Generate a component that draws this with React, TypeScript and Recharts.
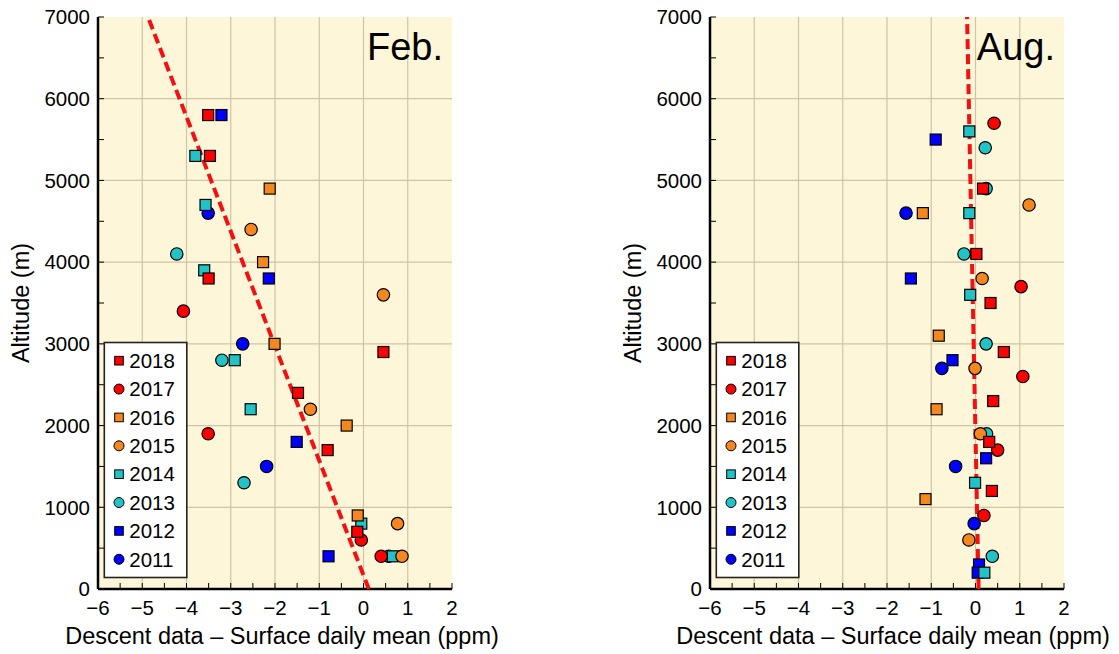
import React from 'react';
import { ScatterChart, Scatter, XAxis, YAxis, CartesianGrid } from 'recharts';

// ---------- data ----------
const years = ['2018', '2017', '2016', '2015', '2014', '2013', '2012', '2011'];
const yearColors = ['#ff0000', '#ff0000', '#f5871f', '#f5871f', '#22c3c6', '#22c3c6', '#0000ff', '#0000ff'];
const yearShapes = ['square', 'circle', 'square', 'circle', 'square', 'circle', 'square', 'circle'];

const xTicks = [-6, -5.5, -5, -4.5, -4, -3.5, -3, -2.5, -2, -1.5, -1, -0.5, 0, 0.5, 1, 1.5, 2];
const yTicks = [0, 500, 1000, 1500, 2000, 2500, 3000, 3500, 4000, 4500, 5000, 5500, 6000, 6500, 7000];
const xGrid = [-5, -4, -3, -2, -1, 0, 1];
const yGrid = [1000, 2000, 3000, 4000, 5000, 6000];

// Feb.
const feb2018 = [{ x: -3.51, y: 5800 }, { x: -3.47, y: 5300 }, { x: -3.5, y: 3800 }, { x: 0.45, y: 2900 }, { x: -1.48, y: 2400 }, { x: -0.81, y: 1700 }, { x: -0.14, y: 700 }];
const feb2017 = [{ x: -4.07, y: 3400 }, { x: -3.51, y: 1900 }, { x: -0.05, y: 600 }, { x: 0.4, y: 400 }];
const feb2016 = [{ x: -2.12, y: 4900 }, { x: -2.27, y: 4000 }, { x: -2.01, y: 3000 }, { x: -0.38, y: 2000 }, { x: -0.13, y: 900 }];
const feb2015 = [{ x: -2.54, y: 4400 }, { x: 0.45, y: 3600 }, { x: -1.2, y: 2200 }, { x: 0.77, y: 800 }, { x: 0.87, y: 400 }];
const feb2014 = [{ x: -3.8, y: 5300 }, { x: -3.57, y: 4700 }, { x: -3.6, y: 3900 }, { x: -2.91, y: 2800 }, { x: -2.55, y: 2200 }, { x: -0.05, y: 800 }, { x: 0.66, y: 400 }];
const feb2013 = [{ x: -4.22, y: 4100 }, { x: -3.2, y: 2800 }, { x: -2.7, y: 1300 }, { x: 0.57, y: 400 }];
const feb2012 = [{ x: -3.21, y: 5800 }, { x: -2.14, y: 3800 }, { x: -1.51, y: 1800 }, { x: -0.79, y: 400 }];
const feb2011 = [{ x: -3.51, y: 4600 }, { x: -2.73, y: 3000 }, { x: -2.19, y: 1500 }];
const febTrend = [{ x: 0.12, y: 0 }, { x: -4.87, y: 7000 }];

// Aug.
const aug2018 = [{ x: 0.17, y: 4900 }, { x: 0.02, y: 4100 }, { x: 0.34, y: 3500 }, { x: 0.64, y: 2900 }, { x: 0.4, y: 2300 }, { x: 0.31, y: 1800 }, { x: 0.37, y: 1200 }];
const aug2017 = [{ x: 0.42, y: 5700 }, { x: 1.03, y: 3700 }, { x: 1.07, y: 2600 }, { x: 0.5, y: 1700 }, { x: 0.19, y: 900 }];
const aug2016 = [{ x: -1.19, y: 4600 }, { x: -0.83, y: 3100 }, { x: -0.88, y: 2200 }, { x: -1.13, y: 1100 }];
const aug2015 = [{ x: 1.21, y: 4700 }, { x: 0.15, y: 3800 }, { x: -0.01, y: 2700 }, { x: 0.11, y: 1900 }, { x: -0.15, y: 600 }];
const aug2014 = [{ x: -0.14, y: 5600 }, { x: -0.14, y: 4600 }, { x: -0.12, y: 3600 }, { x: -0.01, y: 1300 }, { x: 0.2, y: 200 }];
const aug2013 = [{ x: 0.22, y: 5400 }, { x: 0.24, y: 4900 }, { x: -0.26, y: 4100 }, { x: 0.24, y: 3000 }, { x: 0.25, y: 1900 }, { x: 0.38, y: 400 }];
const aug2012 = [{ x: -0.9, y: 5500 }, { x: -1.46, y: 3800 }, { x: -0.52, y: 2800 }, { x: 0.24, y: 1600 }, { x: 0.08, y: 300 }, { x: 0.05, y: 200 }];
const aug2011 = [{ x: -1.57, y: 4600 }, { x: -0.76, y: 2700 }, { x: -0.45, y: 1500 }, { x: -0.03, y: 800 }];
const augTrend = [{ x: 0.07, y: 0 }, { x: -0.19, y: 7000 }];

const febSeries = [feb2018, feb2017, feb2016, feb2015, feb2014, feb2013, feb2012, feb2011];
const augSeries = [aug2018, aug2017, aug2016, aug2015, aug2014, aug2013, aug2012, aug2011];

// ---------- styles ----------
const FONT = '"Liberation Sans", Arial, Helvetica, sans-serif';
const BG = '#fdf6d8';
const GRID = '#cdc5a6';
const TREND = '#f21010';

const fmtMinus = (v: number) => (v < 0 ? '\u2212' + Math.abs(v) : String(v));

const makeShape = (color: string, kind: string) => (props: any) => {
  const { cx, cy } = props;
  if (cx == null || cy == null) return <g />;
  if (kind === 'square') {
    return <rect x={cx - 5.5} y={cy - 5.5} width={11} height={11} fill={color} stroke="#000" strokeWidth={1.2} />;
  }
  return <circle cx={cx} cy={cy} r={6.2} fill={color} stroke="#000" strokeWidth={1.2} />;
};

const noShape = () => <g />;

function Panel({ series, trend }: { series: { x: number; y: number }[][]; trend: { x: number; y: number }[] }) {
  // draw oldest first so newer years sit on top
  const order = [7, 6, 5, 4, 3, 2, 1, 0];
  return (
    <ScatterChart width={460} height={654} margin={{ top: 17, right: 8, bottom: 0, left: 0 }}>
      <CartesianGrid
        xAxisId="b"
        yAxisId="l"
        fill={BG}
        fillOpacity={1}
        stroke={GRID}
        strokeWidth={1.2}
        verticalValues={xGrid}
        horizontalValues={yGrid}
      />
      <XAxis
        xAxisId="b"
        dataKey="x"
        type="number"
        domain={[-6, 2]}
        allowDataOverflow
        ticks={xTicks}
        interval={0}
        tickFormatter={(v: number) => (Number.isInteger(v) ? fmtMinus(v) : '')}
        height={65}
        tickSize={-6}
        tickMargin={17}
        axisLine={{ stroke: '#000', strokeWidth: 2.5 }}
        tickLine={{ stroke: '#000', strokeWidth: 1 }}
        tick={{ fill: '#000', fontSize: 20.5, fontFamily: FONT }}
      />
      <XAxis
        xAxisId="t"
        orientation="top"
        type="number"
        domain={[-6, 2]}
        allowDataOverflow
        ticks={xTicks}
        interval={0}
        height={0}
        tickSize={-6}
        tick={false}
        axisLine={{ stroke: '#000', strokeWidth: 2.5 }}
        tickLine={{ stroke: '#000', strokeWidth: 1 }}
      />
      <YAxis
        yAxisId="l"
        dataKey="y"
        type="number"
        domain={[0, 7000]}
        allowDataOverflow
        ticks={yTicks}
        interval={0}
        tickFormatter={(v: number) => (v % 1000 === 0 ? String(v) : '')}
        width={98}
        tickSize={-6}
        tickMargin={14}
        axisLine={{ stroke: '#000', strokeWidth: 2.5 }}
        tickLine={{ stroke: '#000', strokeWidth: 1 }}
        tick={{ fill: '#000', fontSize: 20.5, fontFamily: FONT }}
      />
      <YAxis
        yAxisId="r"
        orientation="right"
        type="number"
        domain={[0, 7000]}
        allowDataOverflow
        ticks={yTicks}
        interval={0}
        width={0}
        tickSize={-6}
        tick={false}
        axisLine={{ stroke: '#000', strokeWidth: 2.5 }}
        tickLine={{ stroke: '#000', strokeWidth: 1 }}
      />
      <Scatter
        xAxisId="b"
        yAxisId="l"
        data={trend}
        line={{ stroke: TREND, strokeWidth: 4, strokeDasharray: '10 5' }}
        shape={noShape}
        isAnimationActive={false}
        legendType="none"
      />
      {order.map((i) => (
        <Scatter
          key={years[i]}
          name={years[i]}
          xAxisId="b"
          yAxisId="l"
          data={series[i]}
          shape={makeShape(yearColors[i], yearShapes[i])}
          isAnimationActive={false}
        />
      ))}
    </ScatterChart>
  );
}

function LegendBox({ left }: { left: number }) {
  return (
    <g>
      <rect x={left} y={342.5} width={82.5} height={235} fill="#fff" stroke="#222" strokeWidth={1.6} />
      {years.map((yr, i) => {
        const cy = 360.7 + i * 28.37;
        const mx = left + 14.7;
        return (
          <g key={yr}>
            {yearShapes[i] === 'square' ? (
              <rect x={mx - 4.3} y={cy - 4.3} width={8.6} height={8.6} fill={yearColors[i]} stroke="#000" strokeWidth={1} />
            ) : (
              <circle cx={mx} cy={cy} r={5} fill={yearColors[i]} stroke="#000" strokeWidth={1} />
            )}
            <text x={left + 25} y={cy + 7.3} fontSize={20.5} fontFamily={FONT} fill="#000">
              {yr}
            </text>
          </g>
        );
      })}
    </g>
  );
}

export default function App() {
  const xLabel = 'Descent data \u2013 Surface daily mean (ppm)';
  return (
    <div style={{ position: 'absolute', left: 0, top: 0, width: 1119, height: 654, background: '#fff', overflow: 'hidden' }}>
      <div style={{ position: 'absolute', left: 0, top: 0 }}>
        <Panel series={febSeries} trend={febTrend} />
      </div>
      <div style={{ position: 'absolute', left: 612, top: 0 }}>
        <Panel series={augSeries} trend={augTrend} />
      </div>
      <svg width={1119} height={654} style={{ position: 'absolute', left: 0, top: 0, pointerEvents: 'none' }}>
        <text x={443} y={60} textAnchor="end" fontSize={38} fontFamily={FONT} fill="#000">Feb.</text>
        <text x={1055} y={60} textAnchor="end" fontSize={38} fontFamily={FONT} fill="#000">Aug.</text>
        <text x={282} y={644} textAnchor="middle" fontSize={23.5} fontFamily={FONT} fill="#000">{xLabel}</text>
        <text x={893} y={644} textAnchor="middle" fontSize={23.5} fontFamily={FONT} fill="#000">{xLabel}</text>
        <text transform="translate(29,303) rotate(-90)" textAnchor="middle" fontSize={23.5} fontFamily={FONT} fill="#000">Altitude (m)</text>
        <text transform="translate(641,303) rotate(-90)" textAnchor="middle" fontSize={23.5} fontFamily={FONT} fill="#000">Altitude (m)</text>
        <LegendBox left={104.3} />
        <LegendBox left={716.3} />
      </svg>
    </div>
  );
}
